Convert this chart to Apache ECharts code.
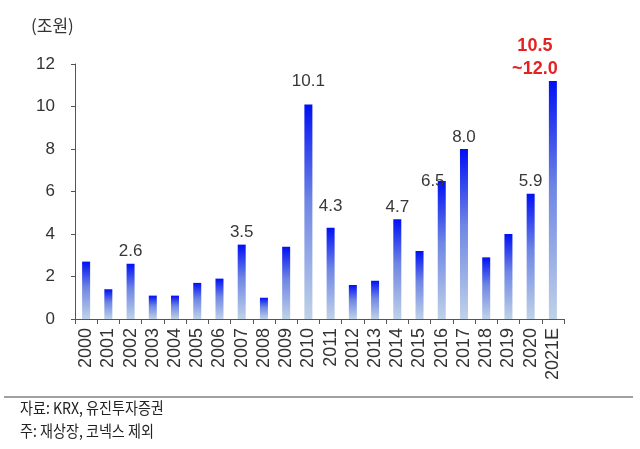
<!DOCTYPE html>
<html>
<head>
<meta charset="utf-8">
<script src="https://cdn.jsdelivr.net/npm/echarts@6/dist/echarts.min.js"></script>
<style>
html,body{margin:0;padding:0;background:#fff;}
#c{width:640px;height:449px;}
</style>
</head>
<body>
<div id="c"></div>
<script>
const categories = ['2000','2001','2002','2003','2004','2005','2006','2007','2008','2009','2010','2011','2012','2013','2014','2015','2016','2017','2018','2019','2020','2021E'];
const values = [2.7,1.4,2.6,1.1,1.1,1.7,1.9,3.5,1.0,3.4,10.1,4.3,1.6,1.8,4.7,3.2,6.5,8.0,2.9,4.0,5.9,11.2];
const labels = [null,null,'2.6',null,null,null,null,'3.5',null,null,'10.1','4.3',null,null,'4.7',null,'6.5','8.0',null,null,'5.9','10.5\n~12.0'];
const yTicks = [0,2,4,6,8,10,12];

// label placement tweaks (style only)
const labelPlacement = {
  '2010': {distance:14},
  '2011': {distance:12},
  '2016': {distance:0, offset:[-9,9]},
  '2021E': {distance:0, offset:[-18,0]}
};

const chart = echarts.init(document.getElementById('c'), null, {renderer:'canvas'});
const grad = new echarts.graphic.LinearGradient(0,0,0,1,[
  {offset:0,color:'#0010f4'},
  {offset:0.45,color:'#6f86e4'},
  {offset:1,color:'#bfd2e8'}
]);
const data = values.map((v,i)=>{
  const d = {value:v};
  if (labels[i]) {
    const last = categories[i] === '2021E';
    const p = labelPlacement[categories[i]] || {};
    d.label = {
      show:true, position:'top',
      distance: p.distance !== undefined ? p.distance : 3,
      offset: p.offset || [0,0],
      formatter: labels[i],
      color: last ? '#e42222' : '#383838',
      fontWeight: last ? 'bold' : 'normal',
      fontSize: last ? 18 : 17, lineHeight: last ? 23 : 18,
      fontFamily:'Arial, Liberation Sans, sans-serif'
    };
  }
  return d;
});
chart.setOption({
  animation:false,
  backgroundColor:'#fff',
  grid:{left:75,right:76,top:64,bottom:130},
  graphic:[
    {type:'text',left:31,top:17,style:{text:'(조원)',fontSize:17,fill:'#333',fontFamily:'Noto Sans CJK KR'}},
    {type:'line',shape:{x1:4,y1:397,x2:633,y2:397},style:{stroke:'#a0a0a0',lineWidth:2}},
    {type:'text',x:20,y:400,scaleX:0.88,style:{text:'자료: KRX, 유진투자증권',fontSize:16,fill:'#222',fontFamily:'Noto Sans CJK KR'}},
    {type:'text',x:20,y:423,scaleX:0.88,style:{text:'주: 재상장, 코넥스 제외',fontSize:16,fill:'#222',fontFamily:'Noto Sans CJK KR'}}
  ],
  xAxis:{
    type:'category', data:categories,
    axisLine:{lineStyle:{color:'#555',width:1}},
    axisTick:{show:true,length:5,lineStyle:{color:'#555'}},
    axisLabel:{rotate:90,fontSize:18,color:'#333',margin:9,interval:0,fontFamily:'Arial, Liberation Sans, sans-serif'}
  },
  yAxis:{
    type:'value', min:0, max:12, interval:2,
    axisLine:{show:true,lineStyle:{color:'#555'}},
    axisTick:{show:true,length:4,lineStyle:{color:'#555'}},
    splitLine:{show:false},
    axisLabel:{fontSize:17,color:'#333',margin:20,fontFamily:'Arial, Liberation Sans, sans-serif',
      formatter:v=>yTicks.includes(v)?String(v):''}
  },
  series:[{
    type:'bar', data:data, barWidth:8,
    itemStyle:{color:grad}
  }]
});
</script>
</body>
</html>
